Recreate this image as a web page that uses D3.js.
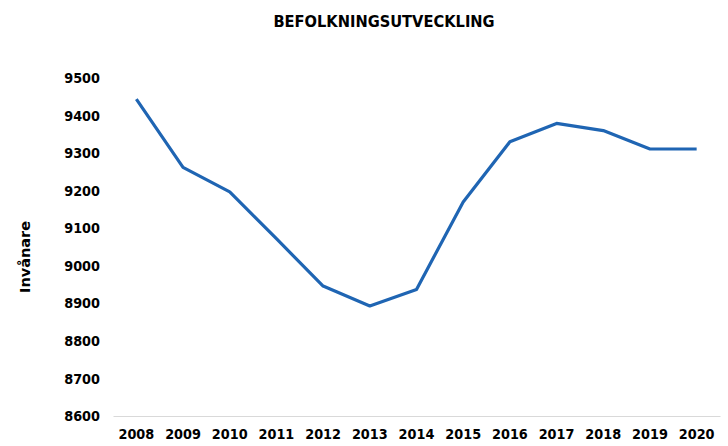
<!DOCTYPE html>
<html>
<head>
<meta charset="utf-8">
<script src="https://cdn.jsdelivr.net/npm/d3@7"></script>
<style>
  body { margin: 0; background: #fff; }
  text { font-family: "DejaVu Sans Condensed", "DejaVu Sans", sans-serif; font-weight: bold; fill: #000; }
</style>
</head>
<body>
<div id="chart"></div>
<script>
// data
var years = ["2008","2009","2010","2011","2012","2013","2014","2015","2016","2017","2018","2019","2020"];
var invanare = [9444, 9262, 9197, 9072, 8946, 8893, 8937, 9170, 9330, 9379, 9360, 9311, 9311];
var yTicks = [8600, 8700, 8800, 8900, 9000, 9100, 9200, 9300, 9400, 9500];

var W = 728, H = 446;
var svg = d3.select("#chart").append("svg").attr("width", W).attr("height", H);

var x = d3.scaleBand().domain(years).range([113, 720]);
var y = d3.scaleLinear().domain([8600, 9500]).range([416, 78]);

// title
svg.append("text")
  .attr("x", 384).attr("y", 27)
  .attr("text-anchor", "middle")
  .style("font-size", "16.3px")
  .text("BEFOLKNINGSUTVECKLING");

// y axis label
svg.append("text")
  .attr("transform", "translate(30,257) rotate(-90)")
  .attr("text-anchor", "middle")
  .style("font-family", "'DejaVu Sans', sans-serif")
  .style("font-size", "14.5px")
  .text("Invånare");

// y axis (labels only)
var yAxis = svg.append("g")
  .attr("transform", "translate(100,0)")
  .call(d3.axisLeft(y).tickValues(yTicks).tickSize(0).tickPadding(0).tickFormat(d3.format("d")));
yAxis.select(".domain").remove();
yAxis.selectAll("text").style("font-size", "14.3px").attr("font-family", null);

// x axis
var xAxis = svg.append("g")
  .attr("transform", "translate(0,416)")
  .call(d3.axisBottom(x).tickSize(0).tickPadding(13));
xAxis.select(".domain").attr("stroke", "#d9d9d9").attr("stroke-width", 1.2);
xAxis.selectAll("text").style("font-size", "14.3px").attr("font-family", null);

// line
var line = d3.line()
  .x(function (d, i) { return x(years[i]) + x.bandwidth() / 2; })
  .y(function (d) { return y(d); });

svg.append("path")
  .datum(invanare)
  .attr("fill", "none")
  .attr("stroke", "#1f65b3")
  .attr("stroke-width", 3.2)
  .attr("stroke-linejoin", "round")
  .attr("d", line);
</script>
</body>
</html>
